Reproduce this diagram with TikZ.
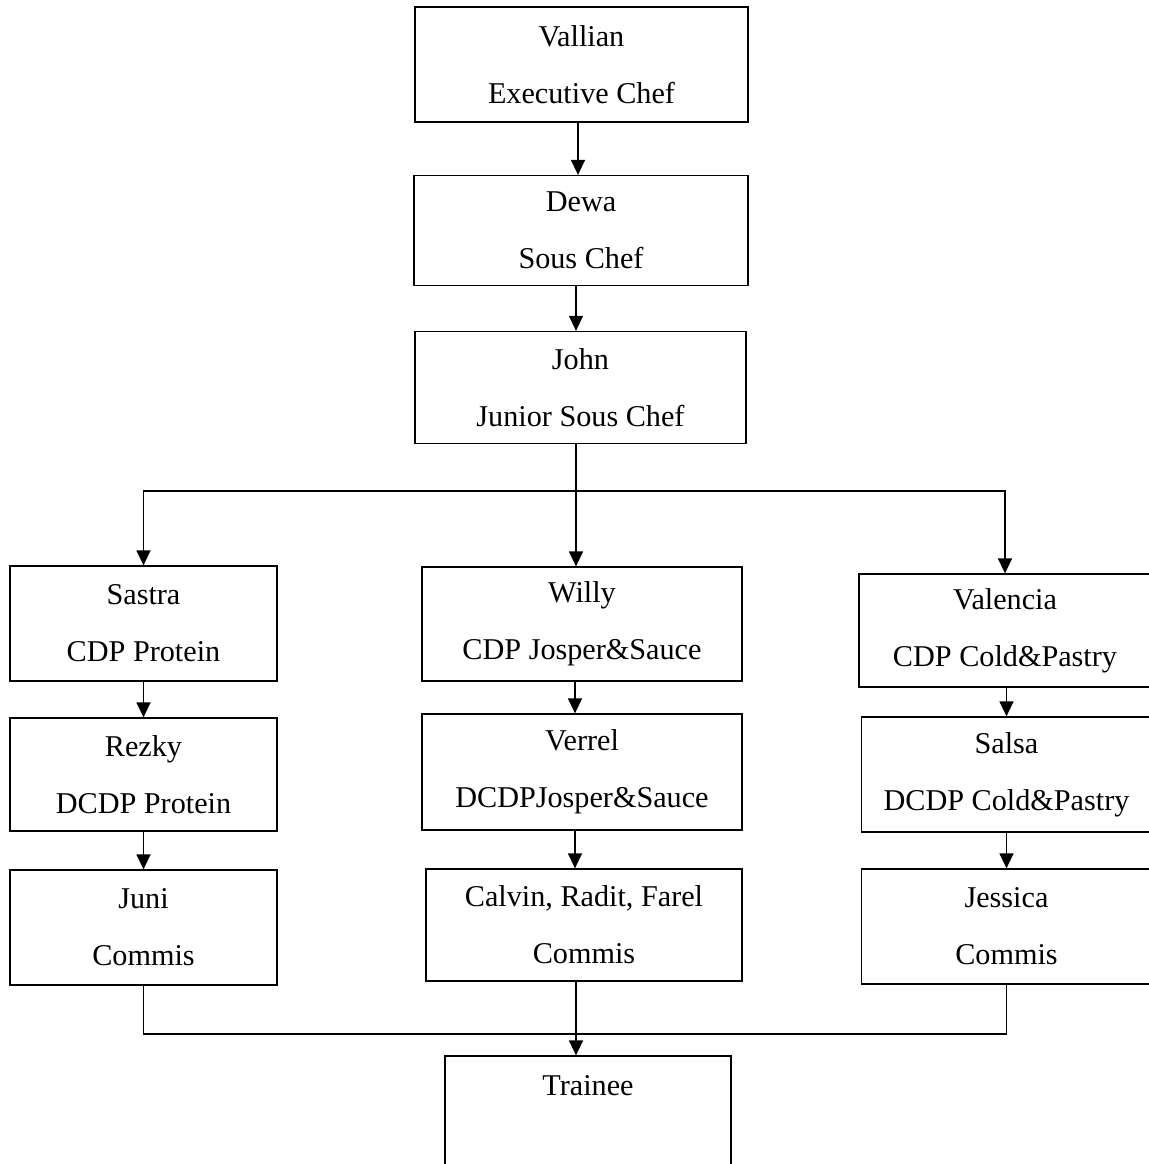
\documentclass[tikz,border=0pt]{standalone}
\usepackage{fontspec}
\setmainfont{Liberation Serif}
\usetikzlibrary{arrows.meta, calc}

\begin{document}
\begin{tikzpicture}[x=0.5pt, y=-0.5pt,
    staff/.style={draw, line width=0.65pt, align=center, inner sep=0pt,
        font=\fontsize{15.1}{28.5}\selectfont},
    link/.style={line width=0.7pt},
    arrow/.style={link, -{Triangle[length=7.5pt, width=7pt]}}]
    \useasboundingbox (0, 0) rectangle (1148, 1164);

    % top of the kitchen
    \node[staff, minimum width=166.5pt, minimum height=57.5pt] (vallian) at (581.5, 64.5) {Vallian\\Executive Chef};
    \node[staff, minimum width=167pt, minimum height=55pt] (dewa) at (581, 230.5) {Dewa\\Sous Chef};
    \node[staff, minimum width=165.5pt, minimum height=56pt] (john) at (580.5, 387.5) {John\\Junior Sous Chef};

    % chefs de partie
    \node[staff, minimum width=133.5pt, minimum height=57.5pt] (sastra) at (143.5, 623.5) {Sastra\\CDP Protein};
    \node[staff, minimum width=160pt, minimum height=57pt] (willy) at (582, 624) {Willy\\CDP Josper\&Sauce};
    \node[staff, minimum width=146pt, minimum height=56.5pt] (valencia) at (1005, 630.5) {Valencia\\CDP Cold\&Pastry};

    % demi chefs de partie
    \node[staff, minimum width=133.5pt, minimum height=56.5pt] (rezky) at (143.5, 774.5) {Rezky\\DCDP Protein};
    \node[staff, minimum width=160pt, minimum height=58pt] (verrel) at (582, 772) {Verrel\\DCDPJosper\&Sauce};
    \node[staff, minimum width=145pt, minimum height=57.5pt] (salsa) at (1006.5, 774.5) {Salsa\\DCDP Cold\&Pastry};

    % commis
    \node[staff, minimum width=133.5pt, minimum height=57.5pt] (juni) at (143.5, 927.5) {Juni\\Commis};
    \node[staff, minimum width=158pt, minimum height=56pt] (calvin) at (584, 925) {Calvin, Radit, Farel\\Commis};
    \node[staff, minimum width=145pt, minimum height=57.5pt] (jessica) at (1006.5, 926.5) {Jessica\\Commis};

    \node[staff, minimum width=143pt, minimum height=57.5pt] (trainee) at (588, 1113.5) {Trainee\\\mbox{}};

    \coordinate (split) at (576, 491);
    \coordinate (merge) at (576, 1034);

    \draw[arrow] (vallian.south -| 578, 0) -- (dewa.north -| 578, 0);
    \draw[arrow] (dewa.south -| split) -- (john.north -| split);
    \draw[arrow] (john.south -| split) -- (willy.north -| split);
    \draw[arrow] (split) -| (sastra.north);
    \draw[arrow] (split) -| (valencia.north);

    \draw[arrow] (sastra) -- (rezky);
    \draw[arrow] (rezky) -- (juni);
    \draw[arrow] (willy.south -| 575, 0) -- (verrel.north -| 575, 0);
    \draw[arrow] (verrel.south -| 575, 0) -- (calvin.north -| 575, 0);
    \draw[arrow] (valencia.south -| salsa.north) -- (salsa.north);
    \draw[arrow] (salsa.south -| jessica.north) -- (jessica.north);

    \draw[link] (juni.south) |- (merge) -| (jessica.south);
    \draw[arrow] (calvin.south -| merge) -- (trainee.north -| merge);
\end{tikzpicture}
\end{document}
